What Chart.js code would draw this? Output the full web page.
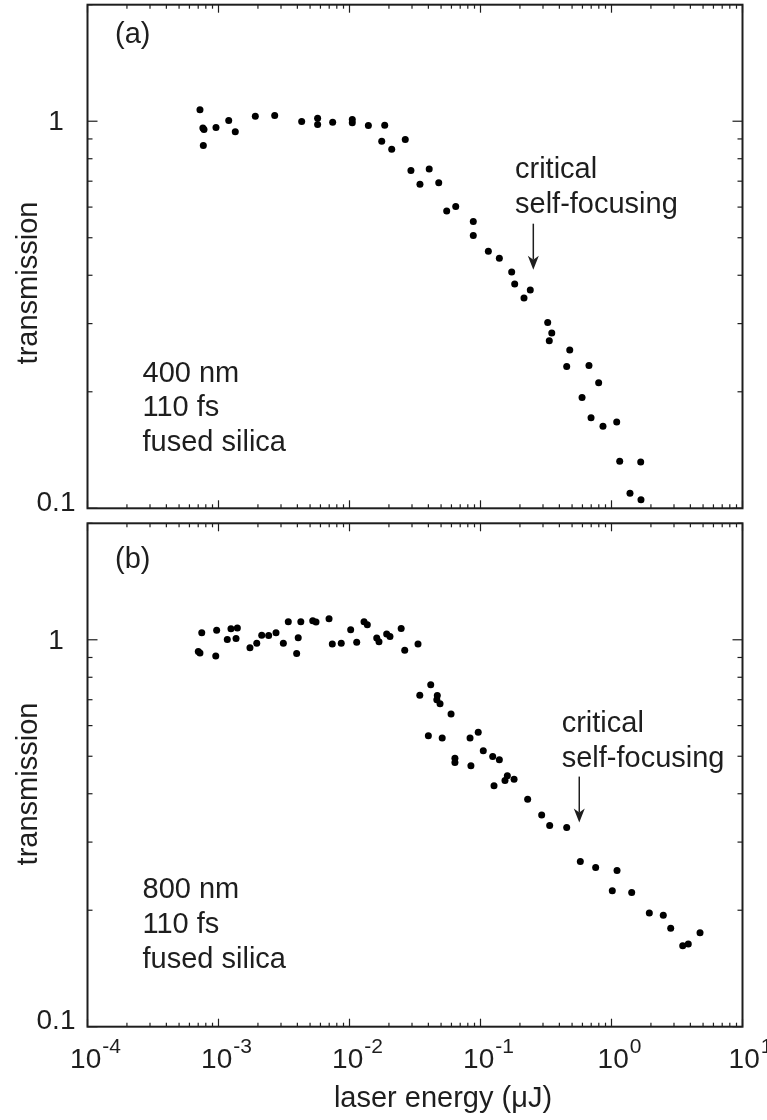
<!DOCTYPE html>
<html>
<head>
<meta charset="utf-8">
<script src="https://cdn.jsdelivr.net/npm/chart.js"></script>
<style>
  body { margin: 0; background: #fff; }
  #wrap { position: relative; width: 767px; height: 1120px; }
  canvas { position: absolute; left: 0; }
</style>
</head>
<body>
<div id="wrap">
  <canvas id="chartA" width="767" height="515" style="top:0"></canvas>
  <canvas id="chartB" width="767" height="605" style="top:515px"></canvas>
</div>
<script>
// ---- Data ----
// (a) 400 nm, 110 fs, fused silica
const energyA = [7.22e-4, 7.6e-4, 7.75e-4, 7.66e-4, 9.57e-4, 1.197e-3, 1.343e-3, 1.91e-3, 2.685e-3, 4.315e-3,
  5.71e-3, 5.71e-3, 7.44e-3, 1.05e-2, 1.05e-2, 1.393e-2, 1.857e-2, 1.762e-2, 2.10e-2, 2.665e-2,
  2.944e-2, 3.45e-2, 4.06e-2, 4.80e-2, 5.52e-2, 6.47e-2, 8.81e-2, 8.81e-2, 0.1148, 0.1393,
  0.173, 0.1824, 0.2399, 0.2148, 0.3258, 0.350, 0.335, 0.480, 0.455, 0.673,
  0.798, 0.596, 0.698, 0.861, 1.096, 1.155, 1.671, 1.384, 1.679];
const transA = [1.070, 0.961, 0.952, 0.865, 0.963, 1.004, 0.939, 1.030, 1.035, 0.998,
  1.018, 0.980, 0.994, 1.010, 0.991, 0.975, 0.976, 0.888, 0.846, 0.897,
  0.746, 0.687, 0.753, 0.693, 0.586, 0.602, 0.551, 0.507, 0.4617, 0.4427,
  0.4077, 0.3797, 0.3664, 0.3493, 0.302, 0.2836, 0.2709, 0.2563, 0.2324, 0.2338,
  0.2109, 0.1932, 0.1713, 0.1630, 0.1672, 0.1323, 0.1318, 0.1094, 0.1052];

// (b) 800 nm, 110 fs, fused silica
const energyB = [7.01e-4, 7.22e-4, 7.45e-4, 9.53e-4, 9.68e-4, 1.167e-3, 1.245e-3, 1.393e-3, 1.361e-3, 1.738e-3,
  1.959e-3, 2.138e-3, 2.415e-3, 2.748e-3, 3.126e-3, 3.41e-3, 3.95e-3, 4.06e-3, 4.25e-3, 5.24e-3,
  5.55e-3, 6.98e-3, 7.39e-3, 8.65e-3, 1.021e-2, 1.135e-2, 1.291e-2, 1.368e-2, 1.614e-2, 1.679e-2,
  1.922e-2, 2.037e-2, 2.48e-2, 2.64e-2, 3.334e-2, 3.44e-2, 4.17e-2, 4.68e-2, 4.64e-2, 4.91e-2,
  5.96e-2, 4.00e-2, 5.10e-2, 8.32e-2, 9.61e-2, 0.105, 6.38e-2, 6.38e-2, 8.45e-2, 0.1239,
  0.1393, 0.1268, 0.1538, 0.1603, 0.1804, 0.2291, 0.2931, 0.3374, 0.455, 0.578,
  0.757, 1.102, 1.014, 1.426, 1.944, 2.485, 2.831, 3.497, 3.856, 4.74];
const transB = [0.933, 0.924, 1.043, 0.908, 1.059, 1.002, 1.068, 1.072, 1.008, 0.953,
  0.980, 1.028, 1.026, 1.043, 0.980, 1.113, 0.922, 1.012, 1.113, 1.120,
  1.111, 1.133, 0.975, 0.980, 1.061, 0.986, 1.113, 1.093, 1.010, 0.988,
  1.035, 1.020, 1.070, 0.940, 0.975, 0.719, 0.765, 0.718, 0.6995, 0.683,
  0.643, 0.565, 0.557, 0.557, 0.577, 0.517, 0.4943, 0.4815, 0.4722, 0.4990,
  0.490, 0.4193, 0.4327, 0.4449, 0.4362, 0.3873, 0.3527, 0.3310, 0.3270, 0.2672,
  0.2578, 0.2532, 0.2247, 0.2221, 0.1968, 0.1941, 0.1797, 0.1620, 0.1636, 0.175];

// axes
const xMajorTicks = [1e-4, 1e-3, 1e-2, 1e-1, 1, 10];
const xTickExponents = ['-4', '-3', '-2', '-1', '0', '1'];
const yMajorTicks = [0.1, 1];
const yTickLabels = ['0.1', '1'];
const yMinorTicks = [0.2, 0.3, 0.4, 0.5, 0.6, 0.7, 0.8, 0.9, 2];
const xMinorTicks = [];
xMajorTicks.slice(0, -1).forEach(d => {
  for (let m = 2; m <= 9; m++) xMinorTicks.push(d * m);
});

const FONT = '"Liberation Sans", Arial, Helvetica, sans-serif';
const INK = '#1e1e1e';

// frame, inward ticks, labels and notes
const framePlugin = {
  id: 'frame',
  afterDraw(chart, args, opts) {
    const ctx = chart.ctx;
    const { left, right, top, bottom } = chart.chartArea;
    const xs = chart.scales.x, ys = chart.scales.y;
    const line = (x1, y1, x2, y2) => { ctx.beginPath(); ctx.moveTo(x1, y1); ctx.lineTo(x2, y2); ctx.stroke(); };

    ctx.save();
    ctx.strokeStyle = INK;
    ctx.lineWidth = 1.2;
    xMajorTicks.forEach(v => {
      const px = xs.getPixelForValue(v);
      line(px, bottom, px, bottom - 8); line(px, top, px, top + 8);
    });
    xMinorTicks.forEach(v => {
      const px = xs.getPixelForValue(v);
      line(px, bottom, px, bottom - 4); line(px, top, px, top + 4);
    });
    yMajorTicks.forEach(v => {
      const py = ys.getPixelForValue(v);
      line(left, py, left + 10, py); line(right, py, right - 10, py);
    });
    yMinorTicks.forEach(v => {
      const py = ys.getPixelForValue(v);
      if (py < top) return;
      line(left, py, left + 5, py); line(right, py, right - 5, py);
    });

    ctx.lineWidth = 2;
    ctx.strokeRect(left, top, right - left, bottom - top);

    ctx.fillStyle = INK;
    // y tick labels
    ctx.font = '28px ' + FONT;
    ctx.textAlign = 'center';
    ctx.textBaseline = 'alphabetic';
    yMajorTicks.forEach((v, i) => {
      const py = ys.getPixelForValue(v);
      ctx.fillText(yTickLabels[i], 56, Math.min(py + 9, bottom + 2.5));
    });

    // x tick labels (only on the lower panel)
    if (opts.xLabels) {
      xMajorTicks.forEach((v, i) => {
        const px = xs.getPixelForValue(v) + 8;
        ctx.font = '28px ' + FONT;
        const wBase = ctx.measureText('10').width;
        ctx.font = '21px ' + FONT;
        const wSup = ctx.measureText(xTickExponents[i]).width;
        const x0 = px - (wBase + wSup + 1) / 2;
        ctx.textAlign = 'left';
        ctx.font = '28px ' + FONT;
        ctx.fillText('10', x0, bottom + 41.5);
        ctx.font = '21px ' + FONT;
        ctx.fillText(xTickExponents[i], x0 + wBase + 1, bottom + 26.5);
      });
      ctx.font = '29px ' + FONT;
      ctx.textAlign = 'center';
      ctx.fillText('laser energy (\u03bcJ)', 443, bottom + 80);
    }

    // y title
    ctx.save();
    ctx.translate(29, opts.yTitleY);
    ctx.rotate(-Math.PI / 2);
    ctx.font = '29px ' + FONT;
    ctx.textAlign = 'center';
    ctx.textBaseline = 'middle';
    ctx.fillText('transmission', 0, 0);
    ctx.restore();

    // panel tag and sample notes
    ctx.font = '29px ' + FONT;
    ctx.textAlign = 'left';
    ctx.textBaseline = 'alphabetic';
    ctx.fillText(opts.tag, 115, opts.tagY);
    opts.sample.forEach((s, i) => ctx.fillText(s, 142.5, opts.sampleY + i * 34.7));
    ctx.fillText('critical', opts.critX, opts.critY);
    ctx.fillText('self-focusing', opts.critX, opts.critY + 35.6);

    // arrow to the critical point
    const ax = xs.getPixelForValue(opts.arrowX);
    const y1 = ys.getPixelForValue(opts.arrowFrom);
    const y2 = ys.getPixelForValue(opts.arrowTo);
    ctx.lineWidth = 1.5;
    line(ax, y1, ax, y2 - 10);
    ctx.beginPath();
    ctx.moveTo(ax, y2);
    ctx.lineTo(ax - 5.5, y2 - 14);
    ctx.lineTo(ax, y2 - 10);
    ctx.lineTo(ax + 5.5, y2 - 14);
    ctx.closePath();
    ctx.fill();
    ctx.restore();
  }
};

function makeChart(id, xs, ys, pad, frameOpts) {
  const points = xs.map((x, i) => ({ x: x, y: ys[i] }));
  return new Chart(document.getElementById(id).getContext('2d'), {
    type: 'scatter',
    data: {
      datasets: [{
        data: points,
        pointRadius: 3.5,
        pointBackgroundColor: '#000',
        pointBorderWidth: 0
      }]
    },
    options: {
      responsive: false,
      animation: false,
      layout: { padding: pad },
      plugins: { legend: { display: false }, tooltip: { enabled: false }, frame: frameOpts },
      scales: {
        x: { type: 'logarithmic', min: 1e-4, max: 10, display: false },
        y: { type: 'logarithmic', min: 0.1, max: 2, display: false }
      }
    },
    plugins: [framePlugin]
  });
}

makeChart('chartA', energyA, transA,
  { left: 87.5, right: 24.5, top: 4.7, bottom: 6.7 },
  { tag: '(a)', tagY: 43.3, sample: ['400 nm', '110 fs', 'fused silica'], sampleY: 381.7,
    critX: 515, critY: 177.7, arrowX: 0.253, arrowFrom: 0.5436, arrowTo: 0.4134,
    yTitleY: 283, xLabels: false });

makeChart('chartB', energyB, transB,
  { left: 87.5, right: 24.5, top: 8.3, bottom: 93.3 },
  { tag: '(b)', tagY: 53.3, sample: ['800 nm', '110 fs', 'fused silica'], sampleY: 383.3,
    critX: 561.7, critY: 216.7, arrowX: 0.5675, arrowFrom: 0.443, arrowTo: 0.337,
    yTitleY: 269, xLabels: true });
</script>
</body>
</html>
